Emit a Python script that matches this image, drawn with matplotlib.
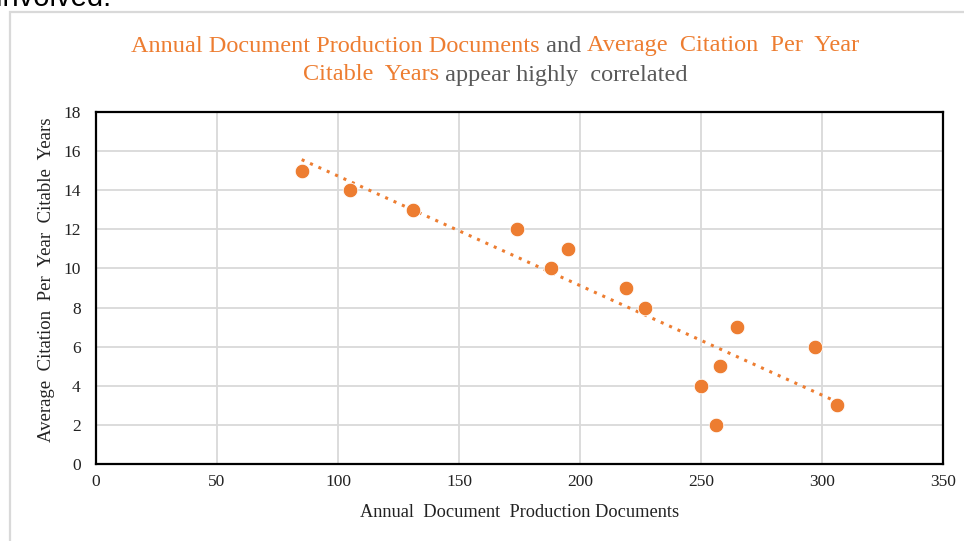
import numpy as np
import matplotlib
matplotlib.use("Agg")
import matplotlib.pyplot as plt
from matplotlib.patches import Rectangle

docs = [85, 105, 131, 174, 195, 188, 219, 227, 265, 297, 258, 250, 256, 306]
cites = [15, 14, 13, 12, 11, 10, 9, 8, 7, 6, 5, 4, 2, 3]
x_ticks = [0, 50, 100, 150, 200, 250, 300, 350]
y_ticks = [0, 2, 4, 6, 8, 10, 12, 14, 16, 18]

ORANGE = "#ED7D31"
GRAY = "#595959"
SERIF = "Liberation Serif"

fig = plt.figure(figsize=(9.64, 5.41), dpi=100)
W, H = 964, 541

# outer chart frame (screenshot border)
fig.patches.append(Rectangle((10 / W, -0.1), 1.2, 1 - 12 / H + 0.1,
                             transform=fig.transFigure, fill=False,
                             edgecolor="#D9D9D9", linewidth=1.6))
fig.text(-4 / W, 1 - 6 / H, "involved.", fontsize=21, family="Liberation Sans",
         va="baseline", ha="left", color="black")

ax = fig.add_axes([96 / W, 1 - 464 / H, (943 - 96) / W, (464 - 112) / H])
ax.set_xlim(0, 350)
ax.set_ylim(0, 18)
ax.set_xticks(x_ticks)
ax.set_yticks(y_ticks)
ax.grid(True, color="#D9D9D9", linewidth=1.3)
ax.set_axisbelow(True)
for s in ax.spines.values():
    s.set_color("black")
    s.set_linewidth(1.6)
ax.tick_params(length=0, labelsize=12.5, labelcolor="#222222")
ax.tick_params(axis="y", pad=11)
ax.tick_params(axis="x", pad=7)
for lbl in ax.get_xticklabels() + ax.get_yticklabels():
    lbl.set_family(SERIF)

coef = np.polyfit(docs, cites, 1)
xs = np.array([min(docs), max(docs)])
ax.plot(xs, np.polyval(coef, xs), color=ORANGE, linestyle=(0, (1, 2)),
        linewidth=2.2, zorder=2)
ax.scatter(docs, cites, s=110, color=ORANGE, edgecolor="white",
           linewidth=0.6, zorder=3)

ax.set_xlabel("Annual  Document  Production Documents", family=SERIF,
              fontsize=13.2, color="#222222", labelpad=10)
ax.set_ylabel("Average  Citation  Per  Year  Citable  Years", family=SERIF,
              fontsize=13.5, color="#222222", va="center")
ax.yaxis.set_label_coords((47 - 96) / 847, (464 - 280) / 352)

# multi-colored title
lines = [
    [("Annual Document Production Documents", ORANGE), (" and ", GRAY),
     ("Average  Citation  Per  Year", ORANGE)],
    [("Citable  Years", ORANGE), (" appear highly  correlated", GRAY)],
]
ys = [1 - 46 / H, 1 - 75 / H]
cx = 495 / W
fig.canvas.draw()
r = fig.canvas.get_renderer()
for parts, y in zip(lines, ys):
    texts = []
    for s, c in parts:
        t = fig.text(0, y, s, color=c, family=SERIF, fontsize=17.5,
                     va="center", ha="left")
        bb = t.get_window_extent(renderer=r)
        texts.append((t, bb.width / W))
    total = sum(w for _, w in texts)
    x = cx - total / 2
    for t, w in texts:
        t.set_x(x)
        x += w

fig.savefig("out.png", dpi=100)
